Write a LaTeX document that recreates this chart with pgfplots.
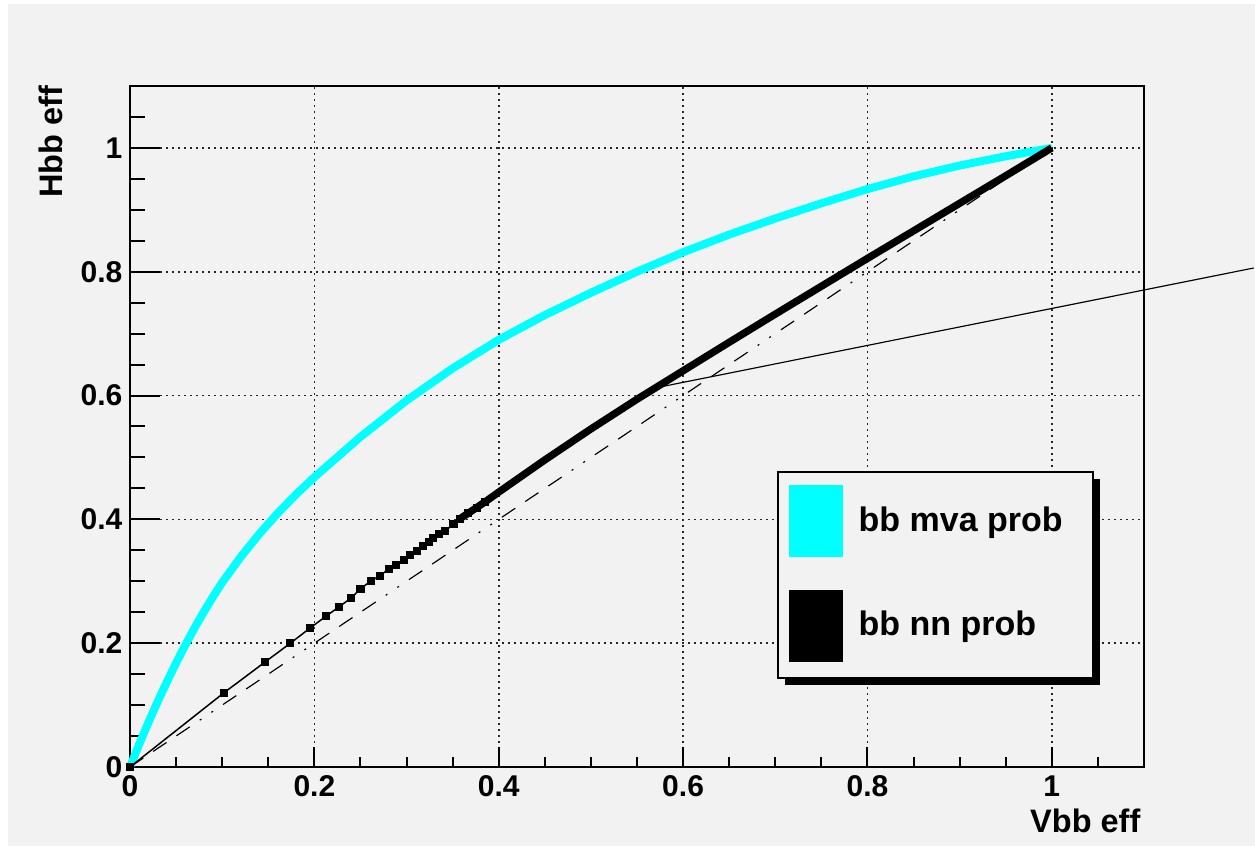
\documentclass[border=0pt]{standalone}
\usepackage{pgfplots}
\pgfplotsset{compat=1.18}
\usepackage{fontspec}
\setmainfont{Liberation Sans}
\definecolor{bg}{RGB}{242,242,242}
\definecolor{rcyan}{RGB}{0,255,255}

\pgfplotstableread{
x y
0 0
0.01 0.037
0.02 0.072
0.03 0.1055
0.04 0.1375
0.05 0.168
0.06 0.197
0.07 0.2245
0.08 0.2505
0.09 0.275
0.10 0.298
0.12 0.339
0.14 0.376
0.16 0.4096
0.18 0.4402
0.2 0.4682
0.25 0.5332
0.3 0.592
0.35 0.644
0.4 0.690
0.45 0.730
0.5 0.766
0.55 0.800
0.6 0.8315
0.65 0.860
0.7 0.886
0.75 0.9105
0.8 0.9335
0.85 0.954
0.9 0.9715
0.95 0.9865
1 1
}\mva

\pgfplotstableread{
x y
0 0
0.102 0.120
0.146 0.169
0.174 0.200
0.195 0.224
0.213 0.244
0.227 0.259
0.240 0.273
0.250 0.288
0.261 0.300
0.271 0.309
0.281 0.320
0.289 0.326
0.297 0.334
0.304 0.343
0.311 0.349
0.318 0.357
0.324 0.363
0.329 0.370
0.335 0.376
0.342 0.381
0.351 0.393
0.358 0.401
0.367 0.410
0.376 0.418
0.385 0.428
}\nnlow

\pgfplotstableread{
x y
0.358 0.401
0.385 0.428
0.4 0.444
0.45 0.496
0.5 0.546
0.55 0.594
0.6 0.640
0.65 0.686
0.7 0.7315
0.75 0.7765
0.8 0.8215
0.85 0.866
0.9 0.9105
0.95 0.955
1 1
}\nnhigh

\begin{document}
\begin{tikzpicture}
\begin{scope}[x=0.3pt,y=-0.3pt,shift={(-39pt,230.1pt)}]
  \fill[white] (0,0) rectangle (1255,846);
  \fill[bg] (8,4) rectangle (1255,846);
\end{scope}
\begin{axis}[
  scale only axis,
  width=304.2pt, height=204.3pt,
  xmin=0, xmax=1.1, ymin=0, ymax=1.1,
  clip=false,
  axis background/.style={fill=bg},
  axis line style={black, line width=0.6pt},
  xtick={0,0.2,0.4,0.6,0.8,1},
  ytick={0,0.2,0.4,0.6,0.8,1},
  xticklabels={0,0.2,0.4,0.6,0.8,1},
  yticklabels={0,0.2,0.4,0.6,0.8,1},
  minor xtick={0.05,0.1,0.15,0.25,0.3,0.35,0.45,0.5,0.55,0.65,0.7,0.75,0.85,0.9,0.95,1.05},
  minor ytick={0.05,0.1,0.15,0.25,0.3,0.35,0.45,0.5,0.55,0.65,0.7,0.75,0.85,0.9,0.95,1.05},
  tick pos=left,
  tick align=inside,
  major tick length=9pt,
  minor tick length=4.5pt,
  xtick style={/pgfplots/major tick length=6pt, /pgfplots/minor tick length=3pt},
  tick style={black, line width=0.6pt},
  grid=major,
  grid style={black!85, line width=0.5pt, dash pattern=on 0.5pt off 1.3pt},
  ticklabel style={font=\fontsize{9}{10}\selectfont\bfseries, inner sep=0pt},
  xticklabel style={anchor=base, yshift=-9pt},
  yticklabel style={anchor=east, xshift=-2.1pt},
]
\addplot[rcyan, line width=2.4pt, line join=round] table[x=x,y=y] {\mva};
\addplot[black, line width=0.35pt, dash pattern=on 4.8pt off 3.6pt on 4.8pt off 3.6pt on 4.8pt off 3.6pt on 0.6pt off 3.6pt on 0.6pt off 3.6pt] coordinates {(0,0) (1,1)};
\addplot[black, line width=0.45pt, mark=square*, mark size=1.0pt, mark options={solid}] table[x=x,y=y] {\nnlow};
\addplot[black, line width=2.2pt, line join=round] table[x=x,y=y] {\nnhigh};
\addplot[black, line width=0.35pt] coordinates {(0.579,0.615) (1.219,0.806)};
\end{axis}
\begin{scope}[x=0.3pt,y=-0.3pt,shift={(-39pt,230.1pt)}]
  % legend
  \fill[black] (785,479) rectangle (1100,685);
  \filldraw[fill=bg, draw=black, line width=0.45pt] (778,472) rectangle (1093,678);
  \fill[rcyan] (789,485) rectangle (843,557);
  \fill[black] (789,590) rectangle (843,662);
  \node[anchor=base west, inner sep=0pt, font=\fontsize{10.2}{12}\selectfont\bfseries] at (858,532) {bb mva prob};
  \node[anchor=base west, inner sep=0pt, font=\fontsize{10.2}{12}\selectfont\bfseries] at (858,635) {bb nn prob};
  % axis titles
  \node[anchor=base east, inner sep=0pt, font=\fontsize{9.75}{12}\selectfont\bfseries] at (1141,832) {Vbb eff};
  \node[rotate=90, anchor=base east, inner sep=0pt, font=\fontsize{9.75}{12}\selectfont\bfseries] at (63,85) {Hbb eff};
\end{scope}
\pgfresetboundingbox
\path[use as bounding box] (-39pt,-23.7pt) rectangle (337.5pt,230.1pt);
\end{tikzpicture}
\end{document}
